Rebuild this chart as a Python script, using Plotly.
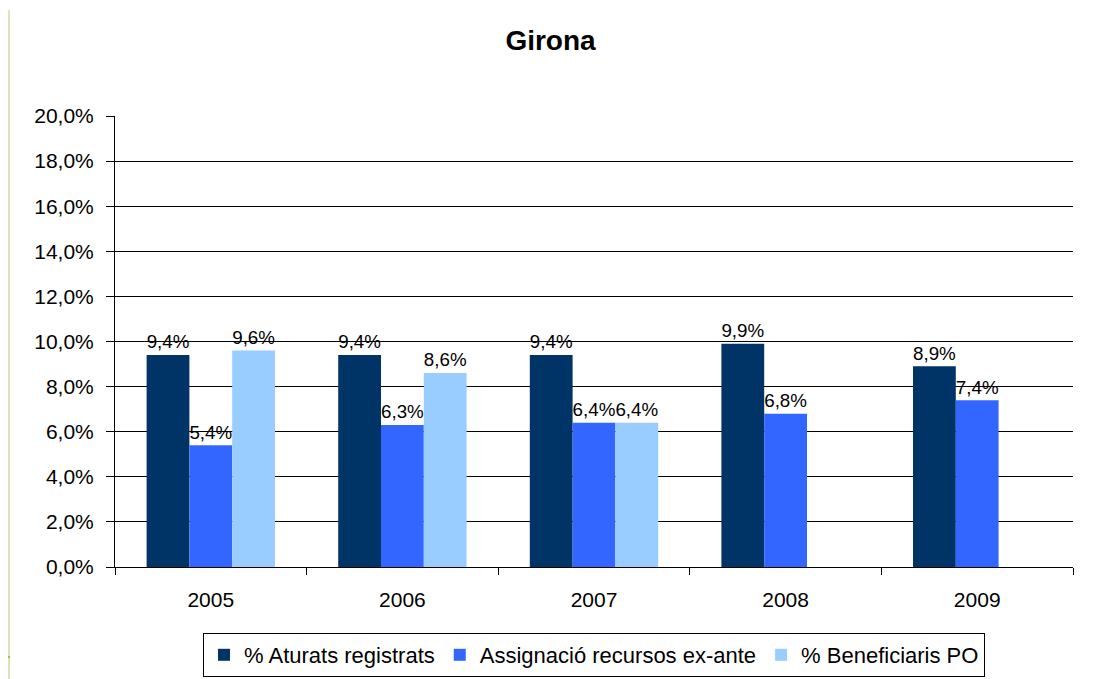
import plotly.graph_objects as go

years = ["2005", "2006", "2007", "2008", "2009"]
aturats = [9.4, 9.4, 9.4, 9.9, 8.9]
assignacio = [5.4, 6.3, 6.4, 6.8, 7.4]
beneficiaris = [9.6, 8.6, 6.4, None, None]

series = [
    ("% Aturats registrats", aturats, "#003366"),
    ("Assignació recursos ex-ante", assignacio, "#3366FF"),
    ("% Beneficiaris PO", beneficiaris, "#99CCFF"),
]

FONT = "Liberation Sans, Arial, sans-serif"

fig = go.Figure()
for name, vals, col in series:
    fig.add_trace(go.Bar(
        x=years, y=vals, name=name,
        marker=dict(color=col, line=dict(width=0)),
        texttemplate="%{y:.1f}%", textposition="outside",
        textfont=dict(family=FONT, size=21, color="black"),
        cliponaxis=False,
    ))

# page is drawn with an 8px offset; figure coordinates below are screen - 8
W, H = 1085, 671
L, R, T, B = 107, 20, 108, 112
plot_w = W - L - R
plot_h = H - T - B

def px(x):
    return (x - L) / plot_w

def py(y):
    return (H - B - y) / plot_h

fig.update_layout(
    width=W, height=H,
    paper_bgcolor="white", plot_bgcolor="white",
    separators=",.",
    barmode="group", bargap=0.33, bargroupgap=0,
    margin=dict(l=L, r=R, t=T, b=B, autoexpand=False),
    font=dict(family=FONT, size=21, color="black"),
    title=dict(text="<b>Girona</b>", x=0.5, xanchor="center", y=1 - 32 / H, yanchor="middle",
               font=dict(size=28, color="black")),
    showlegend=True,
    legend=dict(orientation="h", x=0.5, xanchor="center", y=py(625), yanchor="top",
                bordercolor="black", borderwidth=1, font=dict(size=22),
                itemwidth=30, tracegroupgap=0),
    xaxis=dict(type="category", showline=True, linecolor="black", linewidth=1,
               ticks="outside", tickson="boundaries", ticklen=7, tickcolor="black",
               ticklabelstandoff=14,
               showgrid=False, tickfont=dict(size=21)),
    yaxis=dict(range=[0, 20], dtick=2, tickformat=".1f", ticksuffix="%",
               showline=True, linecolor="black", linewidth=1,
               ticks="outside", ticklen=8, tickcolor="black",
               ticklabelstandoff=8,
               showgrid=True, gridcolor="black", gridwidth=1,
               zeroline=False, tickfont=dict(size=21)),
)

# decorative frame edges
edge = "#d7e4bd"
fig.add_shape(type="line", xref="paper", yref="paper", x0=px(1), x1=px(1), y0=py(H + 10), y1=py(2),
              line=dict(color=edge, width=2))
fig.add_shape(type="line", xref="paper", yref="paper", x0=px(1082), x1=px(1082), y0=py(H + 10), y1=py(4),
              line=dict(color=edge, width=3))
fig.add_shape(type="line", xref="paper", yref="paper", x0=px(-10), x1=px(2), y0=py(649), y1=py(649),
              line=dict(color="#9bbb59", width=2))
fig.add_shape(type="line", xref="paper", yref="paper", x0=px(1080), x1=px(1090), y0=py(649), y1=py(649),
              line=dict(color="#9bbb59", width=2))

fig.write_html("out.html")
